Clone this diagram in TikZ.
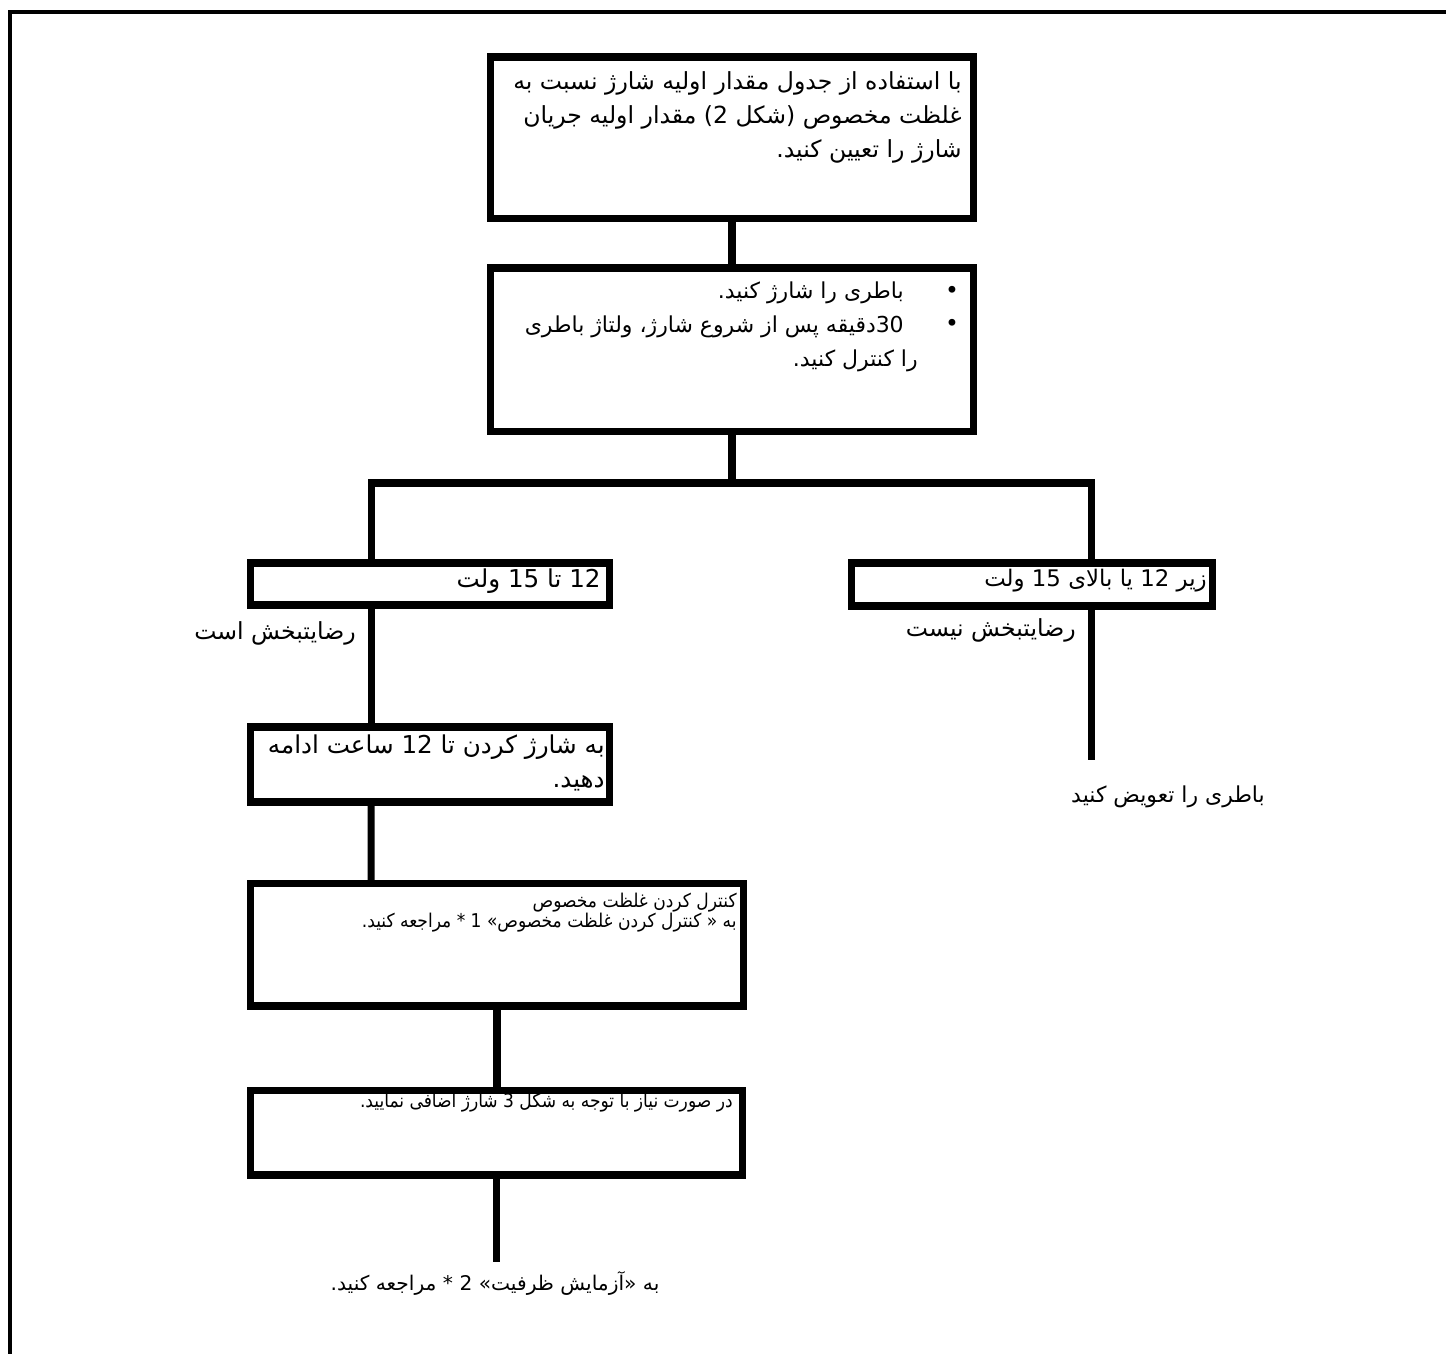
\documentclass[tikz,border=0pt]{standalone}
\usepackage{fontspec}
\setmainfont{DejaVu Sans}
\newfontfamily\fa[Script=Arabic]{DejaVu Sans}
\newfontfamily\facond[Script=Arabic]{DejaVu Sans Condensed}
\TeXXeTstate=1

\tikzset{
  box/.style={draw, rectangle, line width=4pt, inner sep=0pt, outer sep=0pt},
  link/.style={line width=4pt},
  frame/.style={line width=2.8pt},
  txt/.style={font=\fa\fontsize{13.4}{19.5}\selectfont, align=right, inner sep=0pt},
  small/.style={font=\facond\fontsize{10.8}{11}\selectfont, align=right, inner sep=0pt},
  note/.style={font=\fa\fontsize{11.5}{12}\selectfont, inner sep=0pt}
}

\begin{document}
\begin{tikzpicture}[x=0.02cm, y=-0.02cm]
			\useasboundingbox (0,0) rectangle (1446,1354);
			\draw[frame] (10,1354) -- (10,12) -- (1446,12);
			
			% boxes
			\node[box, minimum width=9.68cm, minimum height=3.24cm] (b1) at (732,138) {};
			\node[box, minimum width=9.68cm, minimum height=3.28cm] (b2) at (732,350) {};
			\node[box, minimum width=7.2cm, minimum height=0.84cm] (b3) at (430,584) {};
			\node[box, minimum width=7.24cm, minimum height=0.86cm] (b4) at (1032,584.5) {};
			\node[box, minimum width=7.2cm, minimum height=1.5cm] (b5) at (430,764.5) {};
			\node[box, minimum width=9.88cm, minimum height=2.46cm] (b6) at (497,944.5) {};
			\node[box, minimum width=9.86cm, minimum height=1.7cm] (b7) at (496.5,1132.5) {};
			
			% texts
			\node[txt, anchor=north east] (t1) at (962,71)
			{\beginR با استفاده از جدول مقدار اولیه شارژ نسبت به\endR\\
			 \beginR غلظت مخصوص (شکل 2) مقدار اولیه جریان\endR\\
			 \beginR شارژ را تعیین کنید.\endR};
			\node[txt] (d1) at (952,292) {•};
			\node[txt] (d2) at (952,325) {•};
			\node[txt, anchor=north east, font=\fa\fontsize{12.5}{19.5}\selectfont] (t2) at (904,281)
			{\beginR باطری را شارژ کنید.\endR\\
			 \beginR 30دقیقه پس از شروع شارژ، ولتاژ باطری\endR\\
			 \beginR را کنترل کنید.\endR\hspace*{-0.28cm}};
			\node[txt, anchor=north east, font=\fa\fontsize{14}{19.5}\selectfont] (t3) at (601,568) {\beginR 12 تا 15 ولت\endR};
			\node[txt, anchor=north east, font=\fa\fontsize{13}{19.5}\selectfont] (t4) at (1207,569) {\beginR زیر 12 یا بالای 15 ولت\endR};
			\node[txt, anchor=north east, font=\fa\fontsize{14}{19.5}\selectfont] (t5) at (605,734)
			{\beginR به شارژ کردن تا 12 ساعت ادامه\endR\\
			 \beginR دهید.\endR};
			\node[small, anchor=north east] (t6) at (737,893)
			{\beginR کنترل کردن غلظت مخصوص\endR\\
			 \beginR به « کنترل کردن غلظت مخصوص» 1 * مراجعه کنید.\endR};
			\node[small, anchor=north east] (t7) at (733,1093)
			{\beginR در صورت نیاز با توجه به شکل 3 شارژ اضافی نمایید.\endR};
			
			% connectors
			\coordinate (split) at (732,483);
			\coordinate (replace) at (1091,760);
			\coordinate (capacity) at (495,1262);
			\draw[link] (b1.south) -- (b2.north);
			\draw[link] (b2.south) -- (split);
			\draw[link] (split) -| ([xshift=2.42cm]b3.north west);
			\draw[link] (split) -| (replace |- b4.north);
			\draw[link] ([xshift=2.42cm]b3.south west) -- ([xshift=2.42cm]b5.north west);
			\draw[link] (replace |- b4.south) -- (replace);
			\draw[link] ([xshift=2.42cm]b5.south west) -- ([xshift=2.42cm]b6.north west);
			\draw[link] (b6.south) -- (b6.south |- b7.north);
			\draw[link] (b7.south) -- (b7.south |- capacity);
			
			% labels
			\node[txt, anchor=east] (ok) at (356,633) {\beginR رضایتبخش است\endR};
			\node[txt, anchor=east] (notok) at (1076,630) {\beginR رضایتبخش نیست\endR};
			\node[txt, font=\fa\fontsize{12.5}{19.5}\selectfont] (swap) at (1168,797) {\beginR باطری را تعویض کنید\endR};
			\node[note] (ref) at (495,1283) {\beginR به «آزمایش ظرفیت» 2 * مراجعه کنید.\endR};
\end{tikzpicture}
\end{document}
